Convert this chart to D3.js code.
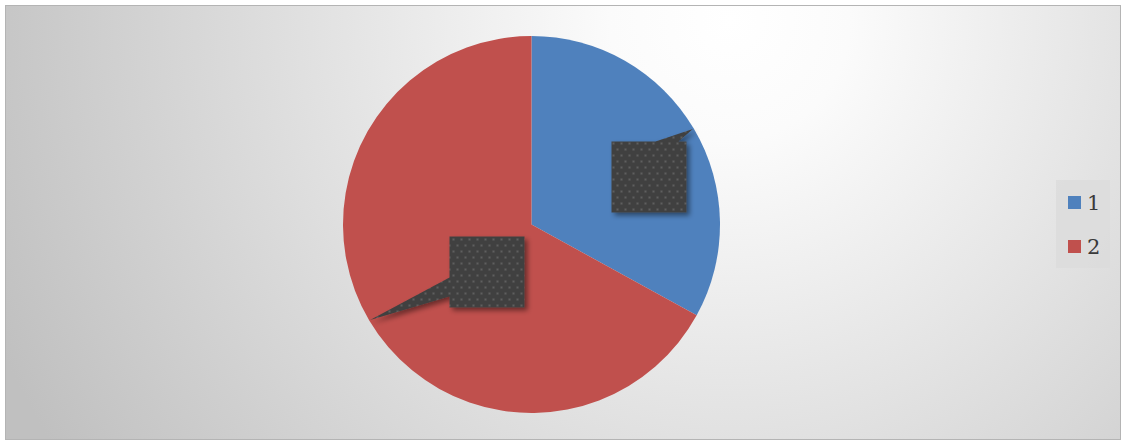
<!DOCTYPE html>
<html>
<head>
<meta charset="utf-8">
<script src="https://cdn.jsdelivr.net/npm/d3@7"></script>
<style>
  html, body { margin: 0; padding: 0; background: #ffffff; }
  svg { display: block; }
</style>
</head>
<body>
<svg id="chart" width="1123" height="442"></svg>
<script>
// Pie slices
const categories = ["1", "2"];
const values = [33, 67];
const colors = ["#4F81BD", "#C0504D"];
// Legend entries
const legendLabels = ["1", "2"];

const W = 1123, H = 442;
const svg = d3.select("#chart");
const defs = svg.append("defs");

// Chart-area background: soft radial light from the upper middle
const bg = defs.append("radialGradient")
  .attr("id", "bgGrad")
  .attr("gradientUnits", "userSpaceOnUse")
  .attr("cx", 730).attr("cy", 20).attr("r", 800);
bg.append("stop").attr("offset", "0").attr("stop-color", "#ffffff");
bg.append("stop").attr("offset", "0.15").attr("stop-color", "#fbfbfb");
bg.append("stop").attr("offset", "1").attr("stop-color", "#c0c0c0");

// Dotted fill used on the data-label boxes
const pat = defs.append("pattern")
  .attr("id", "dots")
  .attr("patternUnits", "userSpaceOnUse")
  .attr("width", 8).attr("height", 12);
pat.append("rect").attr("width", 8).attr("height", 12).attr("fill", "#404040");
pat.append("rect").attr("x", 1).attr("y", 2).attr("width", 2).attr("height", 2).attr("fill", "#5e5e5e");
pat.append("rect").attr("x", 5).attr("y", 8).attr("width", 2).attr("height", 2).attr("fill", "#5e5e5e");

// Drop shadow for the label callouts
const shadow = defs.append("filter").attr("id", "shadow")
  .attr("x", "-30%").attr("y", "-30%").attr("width", "160%").attr("height", "160%");
shadow.append("feDropShadow")
  .attr("dx", 3).attr("dy", 3).attr("stdDeviation", 2.5)
  .attr("flood-color", "#000").attr("flood-opacity", 0.45);

// Frame
svg.append("rect")
  .attr("x", 5.5).attr("y", 5.5)
  .attr("width", 1115).attr("height", 434)
  .attr("fill", "url(#bgGrad)")
  .attr("stroke", "#b4b4b4").attr("stroke-width", 1);

// Pie geometry
const cx = 531.5, cy = 224.5, R = 188.5;
const pie = d3.pie().sort(null).value(d => d)(values);
const arc = d3.arc().innerRadius(0).outerRadius(R);

const g = svg.append("g").attr("transform", `translate(${cx},${cy})`);
g.selectAll("path.slice")
  .data(pie)
  .join("path")
  .attr("class", "slice")
  .attr("d", arc)
  .attr("fill", (d, i) => colors[i]);

// Data-label callouts: box placement relative to pie center, and where the
// pointer leaves the box
const labelBoxes = [
  { x: 80, y: -83, w: 75, h: 71, base: [[124, -83], [147, -83]] },
  { x: -82, y: 12, w: 75, h: 71, base: [[-82, 53], [-82, 72]] }
];

pie.forEach((d, i) => {
  const mid = (d.startAngle + d.endAngle) / 2;
  const tip = [Math.sin(mid) * (R - 1), -Math.cos(mid) * (R - 1)];
  const b = labelBoxes[i];
  const x0 = b.x, y0 = b.y, x1 = b.x + b.w, y1 = b.y + b.h;
  let pts;
  if (i === 0) {
    // pointer on the top edge
    pts = [[x0, y0], b.base[0], tip, b.base[1], [x1, y0], [x1, y1], [x0, y1]];
  } else {
    // pointer on the left edge
    pts = [[x0, y0], [x1, y0], [x1, y1], [x0, y1], b.base[1], tip, b.base[0]];
  }
  g.append("path")
    .attr("d", d3.line()(pts) + "Z")
    .attr("fill", "url(#dots)")
    .attr("filter", "url(#shadow)");
});

// Legend
const lg = svg.append("g");
lg.append("rect")
  .attr("x", 1056).attr("y", 180)
  .attr("width", 54).attr("height", 88)
  .attr("fill", "#dcdcdc").attr("fill-opacity", 0.85);
const items = lg.selectAll("g.item")
  .data(legendLabels)
  .join("g")
  .attr("class", "item")
  .attr("transform", (d, i) => `translate(1068,${196 + i * 44})`);
items.append("rect")
  .attr("width", 13).attr("height", 13)
  .attr("fill", (d, i) => colors[i]);
items.append("text")
  .attr("x", 19).attr("y", 14)
  .attr("font-family", "'DejaVu Serif', 'Liberation Serif', serif")
  .attr("font-size", 21)
  .attr("fill", "#3a3a3a")
  .text(d => d);
</script>
</body>
</html>
